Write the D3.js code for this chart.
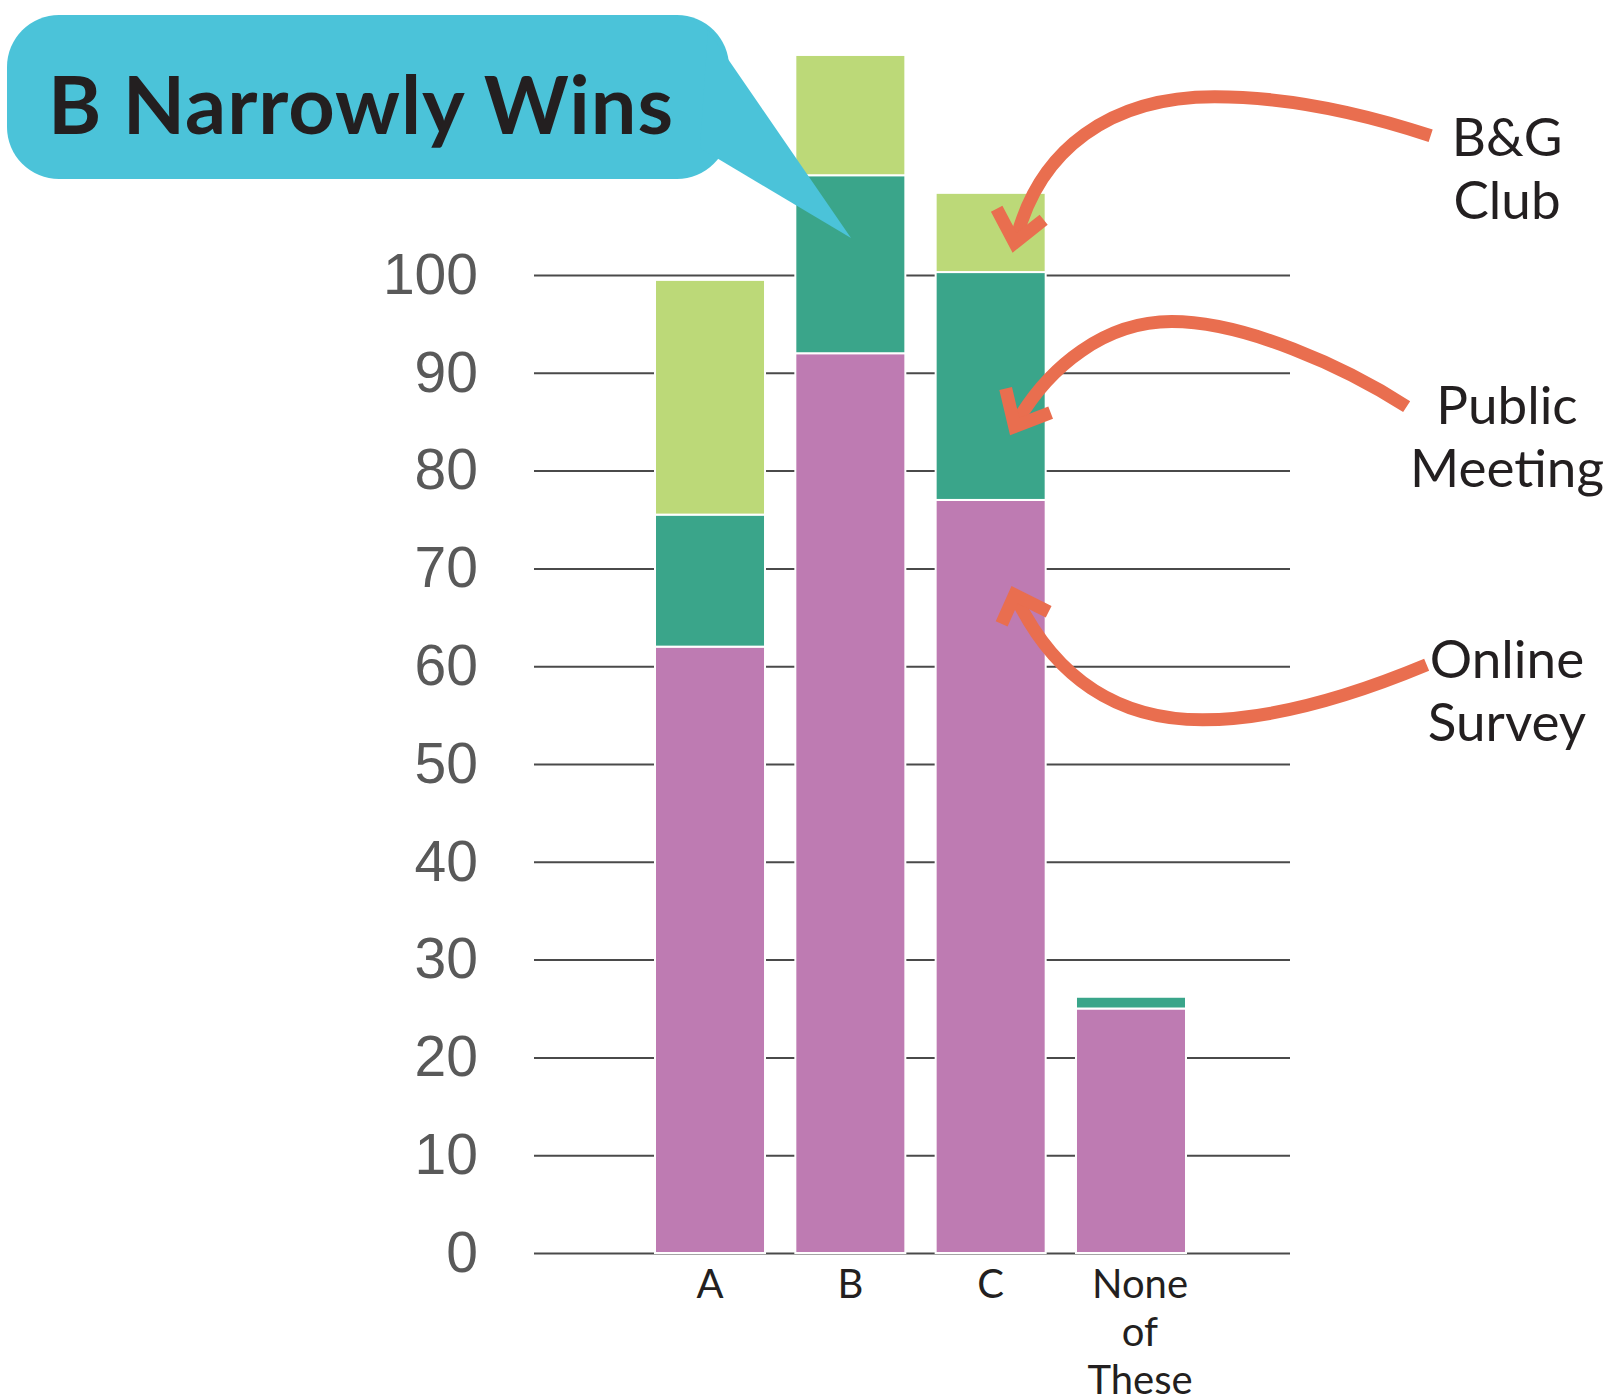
<!DOCTYPE html>
<html lang="en">
<head>
<meta charset="UTF-8">
<title>B Narrowly Wins</title>
<script src="https://d3js.org/d3.v7.min.js"></script>
<style>
body{
    margin: 0;
    background: #fff;
}
svg{
    display: block;
}
.grid line{
    stroke: #4a4a4a;
    stroke-width: 2;
}
.grid text{
    font-family: "Liberation Sans", Arial, sans-serif;
    font-size: 57px;
    fill: #595959;
}
.cat{
    font-family: Lato, sans-serif;
    font-size: 40px;
    fill: #231f20;
    text-anchor: middle;
}
.note{
    font-family: Lato, sans-serif;
    font-size: 53px;
    fill: #231f20;
    text-anchor: middle;
}
.arrow{
    fill: none;
    stroke: #e96e4f;
    stroke-width: 13;
}
</style>
</head>
<body>
<svg id="chart" width="1611" height="1399"></svg>
<script>
    // data
    const categories = ["A", "B", "C", "None of These"]
    const onlineSurvey = [62, 92, 77, 25]
    const publicMeeting = [13.5, 18.2, 23.3, 1.2]
    const bgClub = [24, 12.3, 8.1, 0]
    const seriesNames = ["Online Survey", "Public Meeting", "B&G Club"]
    const seriesColors = ["#be7bb2", "#3aa58a", "#bcd978"]
    const yTicks = [0, 10, 20, 30, 40, 50, 60, 70, 80, 90, 100]
    const title = "B Narrowly Wins"

    // arrows point at bar C, tip value on the y scale
    const notes = [
        {lines: ["B&G", "Club"], value: 103.3, labelY: 156,
         path: "M416,-107 C325,-137 255,-146 200,-146 C95,-146 25,-93 2,-5",
         head: [[-18, -34], [0, 0], [29, -23]]},
        {lines: ["Public", "Meeting"], value: 84.5, labelY: 424,
         path: "M392,-20 C330,-60 230,-105 157,-105 C90,-105 35,-60 3,-6",
         head: [[-9, -38], [0, 0], [36, -14]]},
        {lines: ["Online", "Survey"], value: 67.3, labelY: 678,
         path: "M412,70 C340,100 260,125 188,125 C100,125 40,80 3,6",
         head: [[-13, 29], [0, 0], [34, 17]]}
    ]

    const svg = d3.select("#chart")

    const x = d3.scaleBand()
        .domain(categories)
        .range([655, 1186])
        .paddingInner(0.216)
        .paddingOuter(0)

    const y = d3.scaleLinear()
        .domain([0, 100])
        .range([1253, 275])

    const gridLeft = 534, gridRight = 1290

    // gridlines + tick labels
    svg.append("g")
        .attr("class", "grid")
        .attr("transform", `translate(${gridLeft},0)`)
        .call(d3.axisLeft(y)
            .tickValues(yTicks)
            .tickSize(-(gridRight - gridLeft))
            .tickPadding(56)
            .tickFormat(d3.format("d")))
        .call(g => g.select(".domain").remove())

    // stacked bars
    const rows = categories.map((c, i) => ({
        cat: c,
        "Online Survey": onlineSurvey[i],
        "Public Meeting": publicMeeting[i],
        "B&G Club": bgClub[i]
    }))
    const stacked = d3.stack().keys(seriesNames)(rows)
    const color = d3.scaleOrdinal().domain(seriesNames).range(seriesColors)

    svg.append("g")
        .selectAll("g")
        .data(stacked)
        .join("g")
        .attr("fill", d => color(d.key))
        .selectAll("rect")
        .data(d => d.filter(s => s[1] - s[0] > 0))
        .join("rect")
        .attr("x", d => x(d.data.cat))
        .attr("width", x.bandwidth())
        .attr("y", d => y(d[1]))
        .attr("height", d => y(d[0]) - y(d[1]))
        .attr("stroke", "#fff")
        .attr("stroke-width", 2)

    // category labels
    const catText = svg.append("g")
        .selectAll("text")
        .data(categories)
        .join("text")
        .attr("class", "cat")
        .attr("transform", d => `translate(${x(d) + x.bandwidth() / 2 + (d.includes(" ") ? 9 : 0)},1298)`)
    catText.selectAll("tspan")
        .data(d => d === "None of These" ? ["None", "of", "These"] : [d])
        .join("tspan")
        .attr("x", 0)
        .attr("y", (d, i) => i * 48)
        .text(d => d)

    // arrows and their labels
    const noteG = svg.append("g")
        .selectAll("g")
        .data(notes)
        .join("g")

    const arrow = noteG.append("g")
        .attr("transform", d => `translate(${x("C") + 79},${y(d.value)})`)
    arrow.append("path")
        .attr("class", "arrow")
        .attr("d", d => d.path)
    arrow.append("path")
        .attr("class", "arrow")
        .attr("stroke-linejoin", "miter")
        .attr("d", d => d3.line()(d.head))

    noteG.append("text")
        .attr("class", "note")
        .selectAll("tspan")
        .data(d => d.lines.map((l, i) => ({l, yy: d.labelY + i * 63})))
        .join("tspan")
        .attr("x", 1507)
        .attr("y", d => d.yy)
        .text(d => d.l)

    // title callout
    const callout = svg.append("g")
    callout.append("rect")
        .attr("x", 7)
        .attr("y", 15)
        .attr("width", 722)
        .attr("height", 164)
        .attr("rx", 52)
        .attr("fill", "#4bc3d9")
    callout.append("path")
        .attr("d", d3.line()([[708, 30], [851, 238], [700, 148]]) + "Z")
        .attr("fill", "#4bc3d9")
    callout.append("text")
        .attr("x", 48)
        .attr("y", 134)
        .attr("font-family", "Lato, sans-serif")
        .attr("font-weight", 700)
        .attr("font-size", 81)
        .attr("textLength", 625)
        .attr("lengthAdjust", "spacing")
        .attr("fill", "#231f20")
        .text(title)
</script>
</body>
</html>
